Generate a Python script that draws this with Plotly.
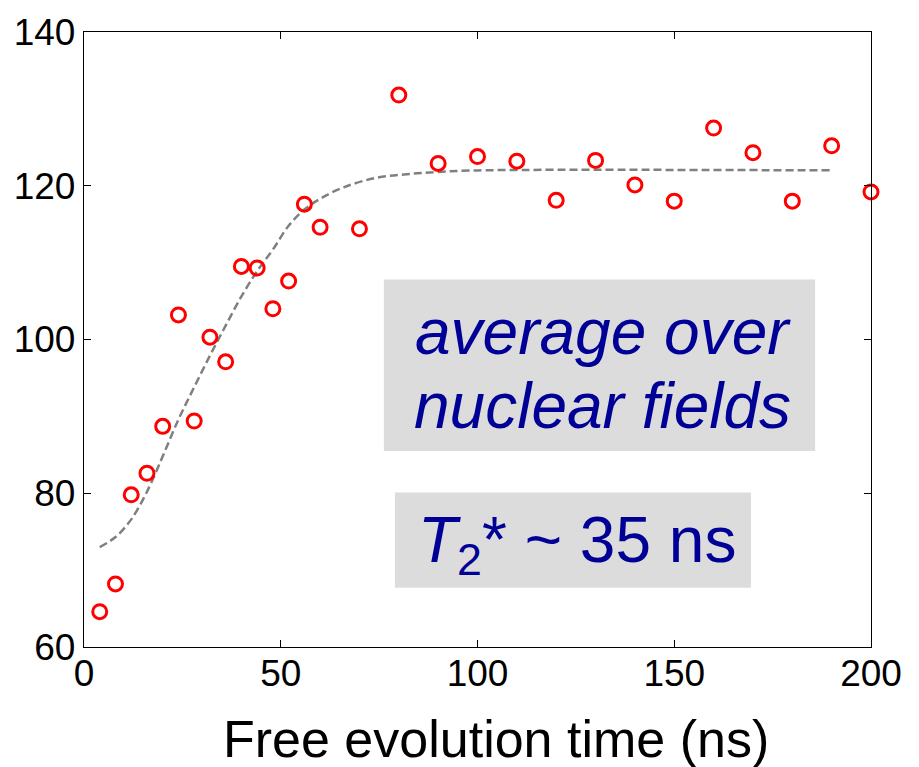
import plotly.graph_objects as go

# Measured signal vs. free evolution time
t_ns = [4, 8, 12, 16, 20, 24, 28, 32, 36, 40, 44, 48, 52, 56, 60,
        70, 80, 90, 100, 110, 120, 130, 140, 150, 160, 170, 180, 190, 200]
signal = [64.6, 68.2, 79.8, 82.6, 88.7, 103.2, 89.4, 100.3, 97.1, 109.5,
          109.3, 104.0, 107.6, 117.6, 114.6, 114.4, 131.8, 122.9, 123.8,
          123.2, 118.1, 123.3, 120.1, 118.0, 127.5, 124.3, 118.0, 125.2, 119.2]

# Fitted decay curve (sampled)
fit_t = [4, 8, 12, 16, 20, 24, 28, 32, 36, 40, 44, 48, 52, 56, 60,
         66, 74, 82, 90, 100, 190]
fit_y = [73.0, 74.3, 76.6, 80.2, 84.8, 89.6, 93.8, 97.9, 101.8, 105.6,
         108.9, 111.7, 114.8, 116.9, 118.3, 119.8, 121.0, 121.5, 121.8,
         122.0, 122.0]

x_ticks = [0, 50, 100, 150, 200]
y_ticks = [60, 80, 100, 120, 140]

FONT = "Arial, Liberation Sans, sans-serif"
NAVY = "#000096"

fig = go.Figure()

fig.add_trace(go.Scatter(
    x=fit_t, y=fit_y, mode="lines", line_shape="spline",
    line=dict(color="#808080", width=2.5, dash="8px,4px"),
    hoverinfo="skip", showlegend=False,
))

fig.add_trace(go.Scatter(
    x=t_ns, y=signal, mode="markers", cliponaxis=False,
    marker=dict(symbol="circle-open", size=14, color="#ff0000",
                line=dict(color="#ff0000", width=3)),
    showlegend=False,
))

# Grey label boxes
fig.add_shape(type="rect", xref="x", yref="y", x0=76.2, x1=185.8, y0=85.5, y1=107.8,
              fillcolor="#dcdcdc", line_width=0, layer="below")
fig.add_shape(type="rect", xref="x", yref="y", x0=79.0, x1=169.5, y0=67.7, y1=80.1,
              fillcolor="#dcdcdc", line_width=0, layer="below")

fig.add_annotation(x=131.9, y=101.0, xref="x", yref="y", showarrow=False,
                   text="<i>average over</i>",
                   font=dict(family=FONT, size=64, color=NAVY))
fig.add_annotation(x=131.8, y=91.3, xref="x", yref="y", showarrow=False,
                   text="<i>nuclear fields</i>",
                   font=dict(family=FONT, size=64, color=NAVY))
fig.add_annotation(x=125.4, y=73.4, xref="x", yref="y", showarrow=False,
                   text="<i>T</i><sub>2</sub>* ~ 35 ns",
                   font=dict(family=FONT, size=64, color=NAVY))

# Axis title
fig.add_annotation(x=104.7, y=0, xref="x", yref="paper", showarrow=False,
                   yanchor="middle", yshift=-92,
                   text="Free evolution time (ns)",
                   font=dict(family=FONT, size=52, color="black"))

axis_common = dict(
    showgrid=False, zeroline=False, showline=True, linecolor="black",
    linewidth=1.3, mirror="ticks", ticks="inside", ticklen=7,
    tickwidth=1.3, tickcolor="black",
    tickfont=dict(family=FONT, size=37, color="black"),
)

fig.update_xaxes(range=[0, 200], tickvals=x_ticks, ticklabelstandoff=-7,
                 **axis_common)
fig.update_yaxes(range=[60, 140], tickvals=y_ticks, **axis_common)

fig.update_layout(
    width=919, height=767,
    margin=dict(l=84, r=48, t=27.5, b=119.5),
    paper_bgcolor="white", plot_bgcolor="white",
)

fig.write_html("out.html")
